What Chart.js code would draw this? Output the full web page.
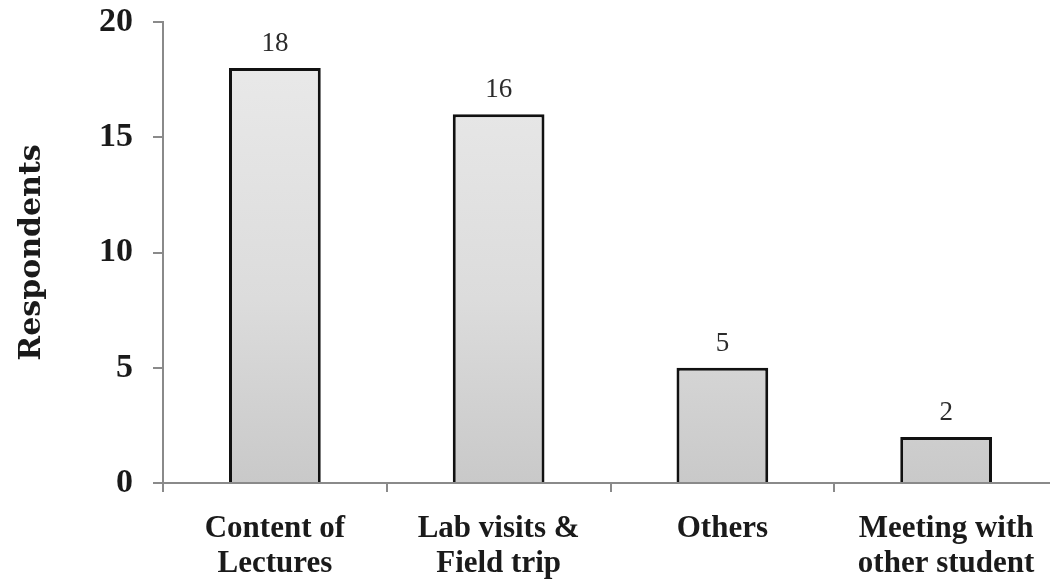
<!DOCTYPE html>
<html>
<head>
<meta charset="utf-8">
<script src="https://cdn.jsdelivr.net/npm/chart.js@4/dist/chart.umd.min.js"></script>
<style>
  html, body { margin: 0; padding: 0; background: #fff; overflow: hidden; }
  canvas { display: block; }
</style>
</head>
<body>
<canvas id="chart" width="1058" height="584"></canvas>
<script>
// ── Data ─────────────────────────────────────────────────────────────────────
const CATEGORIES  = [['Content of', 'Lectures'], ['Lab visits &', 'Field trip'], 'Others', ['Meeting with', 'other student']];
const RESPONDENTS = [18, 16, 5, 2];
const Y_TICKS     = [0, 5, 10, 15, 20];

// ── Helpers ──────────────────────────────────────────────────────────────────
const AXIS_GREY = '#8a8a8a';

function barFill(ctx) {
  const area = ctx.chart.chartArea;
  if (!area) return '#d6d6d6';
  const g = ctx.chart.ctx.createLinearGradient(0, area.top, 0, area.bottom);
  g.addColorStop(0, '#ebebeb');
  g.addColorStop(0.6, '#dcdcdc');
  g.addColorStop(1, '#c9c9c9');
  return g;
}

// value labels above each bar
const valueLabels = {
  id: 'valueLabels',
  afterDatasetsDraw(chart) {
    const { ctx } = chart;
    const meta = chart.getDatasetMeta(0);
    ctx.save();
    ctx.font = '27px "Liberation Serif", serif';
    ctx.fillStyle = '#2b2b2b';
    ctx.textAlign = 'center';
    ctx.textBaseline = 'alphabetic';
    meta.data.forEach((bar, i) => {
      ctx.fillText(String(RESPONDENTS[i]), bar.x, bar.y - 17);
    });
    ctx.restore();
  },
};

// ── Chart ────────────────────────────────────────────────────────────────────
new Chart(document.getElementById('chart').getContext('2d'), {
  type: 'bar',
  data: {
    labels: CATEGORIES,
    datasets: [{
      data: RESPONDENTS,
      backgroundColor: barFill,
      borderColor: '#111',
      borderWidth: 3,
      borderSkipped: 'bottom',
      barPercentage: 0.41,
      categoryPercentage: 1,
    }],
  },
  options: {
    responsive: false,
    animation: false,
    layout: { padding: { top: 22, left: 0, right: 0, bottom: 0 } },
    plugins: { legend: { display: false }, tooltip: { enabled: false } },
    scales: {
      x: {
        grid: { drawOnChartArea: false, color: AXIS_GREY, lineWidth: 2, tickLength: 9, offset: true },
        border: { color: AXIS_GREY, width: 2 },
        ticks: {
          color: '#1a1a1a',
          font: { family: '"Liberation Serif", serif', size: 31, weight: 'bold', lineHeight: 1.12 },
          padding: 20,
          maxRotation: 0,
          autoSkip: false,
        },
        afterFit: s => { s.height = 101; s.paddingLeft = 0; s.paddingRight = 0; },
      },
      y: {
        min: 0,
        max: 20,
        afterBuildTicks: s => { s.ticks = Y_TICKS.map(v => ({ value: v })); },
        grid: { drawOnChartArea: false, color: AXIS_GREY, lineWidth: 2, tickLength: 10 },
        border: { color: AXIS_GREY, width: 2 },
        ticks: {
          color: '#1a1a1a',
          font: { family: '"Liberation Serif", serif', size: 34, weight: 'bold' },
          padding: 20,
        },
        title: {
          display: true,
          text: 'Respondents',
          color: '#1a1a1a',
          font: { family: '"DejaVu Serif", serif', size: 30, weight: 'bold' },
          padding: { top: 14, bottom: 0 },
        },
        afterFit: s => { s.width = 163; s.paddingTop = 0; s.paddingBottom = 0; },
      },
    },
  },
  plugins: [valueLabels],
});
</script>
</body>
</html>
